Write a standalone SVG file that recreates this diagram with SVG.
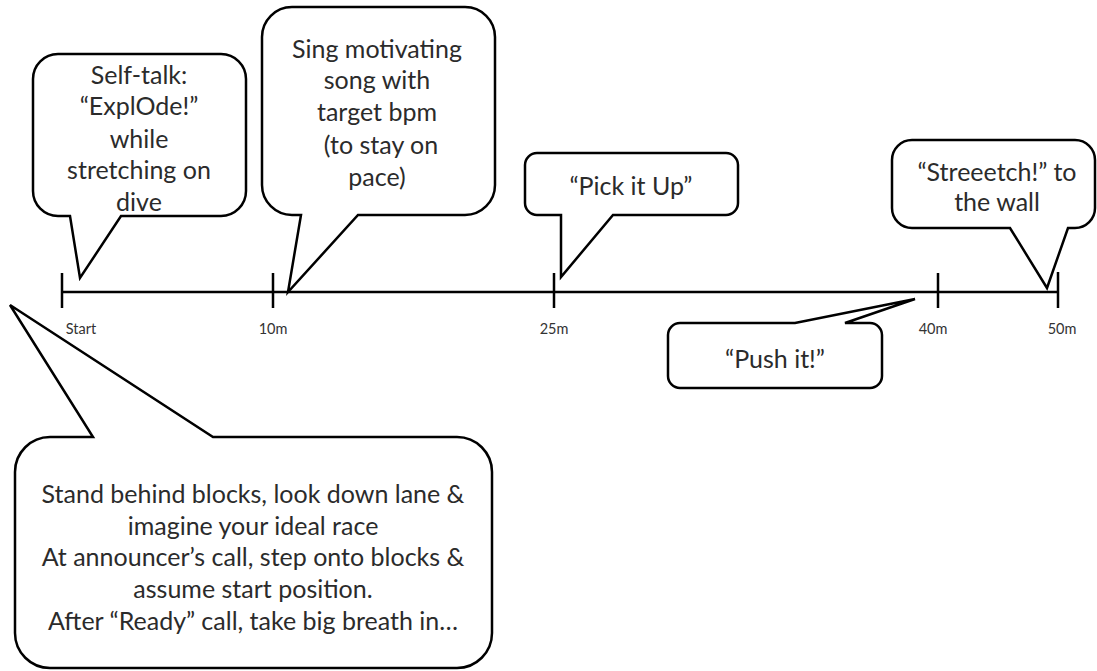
<svg xmlns="http://www.w3.org/2000/svg" width="1097" height="671" viewBox="0 0 1097 671">
<style>
.bubble{fill:#fff;stroke:#000;stroke-width:2.5;stroke-linejoin:miter}
.axis{stroke:#000;stroke-width:2.5;fill:none}
.t{font-family:Lato,"Open Sans","Liberation Sans",sans-serif;font-size:25px;fill:#2b2b2b;text-anchor:middle}
.lbl{font-family:Lato,"Open Sans","Liberation Sans",sans-serif;font-size:14.5px;fill:#333;text-anchor:middle}
</style>
<rect width="1097" height="671" fill="#fff"/>
<g id="timeline" class="axis">
<path d="M62,292 H1058"/>
<path d="M62,273 V308 M273,273 V308 M554,273 V308 M938,273 V308 M1058,272 V308"/>
</g>
<g id="labels">
<text class="lbl" x="81" y="334">Start</text>
<text class="lbl" x="273" y="334">10m</text>
<text class="lbl" x="554" y="334">25m</text>
<text class="lbl" x="933" y="334">40m</text>
<text class="lbl" x="1062" y="334">50m</text>
</g>
<g id="n-selftalk">
<path class="bubble" d="M58,54 H221 A25,25 0 0 1 246,79 V191 A25,25 0 0 1 221,216 H121 L80,278 L70,216 H58 A25,25 0 0 1 33,191 V79 A25,25 0 0 1 58,54 Z"/>
<text class="t" x="139" y="84">Self-talk:</text>
<text class="t" x="139" y="115">“ExplOde!”</text>
<text class="t" x="139" y="148">while</text>
<text class="t" x="139" y="179">stretching on</text>
<text class="t" x="139" y="211">dive</text>
</g>
<g id="n-sing">
<path class="bubble" d="M292,7 H465 A30,30 0 0 1 495,37 V185 A30,30 0 0 1 465,215 H358 L288,292 L301,215 H292 A30,30 0 0 1 262,185 V37 A30,30 0 0 1 292,7 Z"/>
<text class="t" x="377" y="58">Sing motivating</text>
<text class="t" x="377" y="89">song with</text>
<text class="t" x="377" y="121">target bpm</text>
<text class="t" x="381" y="154">(to stay on</text>
<text class="t" x="377" y="186">pace)</text>
</g>
<g id="n-pick">
<path class="bubble" d="M537,153 H726 A12,12 0 0 1 738,165 V203 A12,12 0 0 1 726,215 H613 L561,277 L561,215 H537 A12,12 0 0 1 525,203 V165 A12,12 0 0 1 537,153 Z"/>
<text class="t" x="631" y="195">“Pick it Up”</text>
</g>
<g id="n-stretch">
<path class="bubble" d="M912,140 H1075 A20,20 0 0 1 1095,160 V208 A20,20 0 0 1 1075,228 H1068 L1047,288 L1010,228 H912 A20,20 0 0 1 892,208 V160 A20,20 0 0 1 912,140 Z"/>
<text class="t" x="997" y="181">“Streeetch!” to</text>
<text class="t" x="997" y="211">the wall</text>
</g>
<g id="n-push">
<path class="bubble" d="M680,323 H795 L915,299 L845,323 H870 A12,12 0 0 1 882,335 V376 A12,12 0 0 1 870,388 H680 A12,12 0 0 1 668,376 V335 A12,12 0 0 1 680,323 Z"/>
<text class="t" x="775" y="368">“Push it!”</text>
</g>
<g id="n-start">
<path class="bubble" d="M50,437 H93 L10,305 L213,437 H457 A35,35 0 0 1 492,472 V633 A35,35 0 0 1 457,668 H50 A35,35 0 0 1 15,633 V472 A35,35 0 0 1 50,437 Z"/>
<text class="t" x="253" y="503">Stand behind blocks, look down lane &amp;</text>
<text class="t" x="253" y="535">imagine your ideal race</text>
<text class="t" x="253" y="566">At announcer’s call, step onto blocks &amp;</text>
<text class="t" x="253" y="598">assume start position.</text>
<text class="t" x="253" y="630">After “Ready” call, take big breath in…</text>
</g>
</svg>
